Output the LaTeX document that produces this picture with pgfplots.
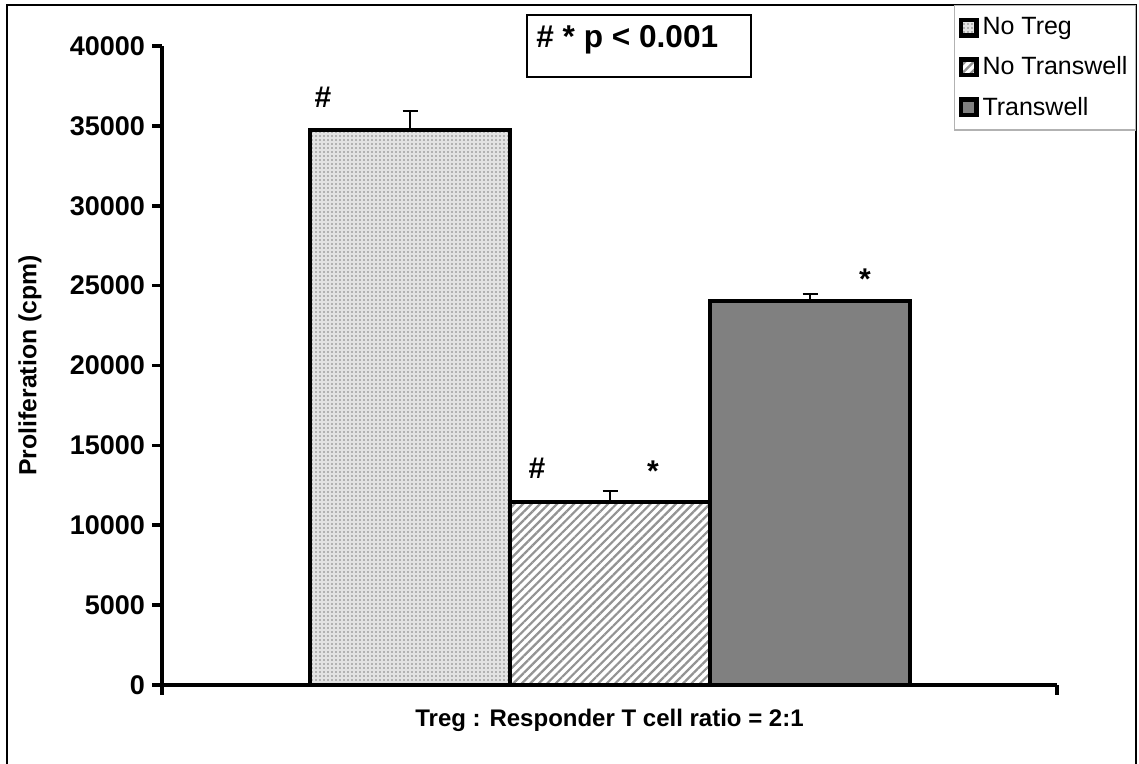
\documentclass[border=0pt]{standalone}
\usepackage{pgfplots}
\pgfplotsset{compat=1.18}
\usepackage{fontspec}
\setmainfont{Liberation Sans}
\usetikzlibrary{patterns,patterns.meta}

\begin{document}
\begin{tikzpicture}[x=0.5pt,y=0.5pt]
% page frame
\path[use as bounding box] (0,0) rectangle (1139,764);
\draw[line width=1pt] (7,-4) -- (7,759) -- (1136,759) -- (1136,-4);

\begin{axis}[
  at={(81pt,39.5pt)}, anchor=south west, scale only axis,
  width=447.5pt, height=319.5pt,
  xmin=-2.24, xmax=2.235, ymin=0, ymax=40000,
  axis lines=left,
  axis line style={line width=1.8pt, -},
  ytick={0,5000,...,40000},
  xtick={-2.24,2.235}, xticklabels={},
  tick align=outside, major tick length=5pt,
  tick style={line width=1.8pt, black},
  yticklabel style={font=\bfseries\fontsize{13.5}{15}\selectfont},
  /pgf/number format/assume math mode=true,
  /pgf/number format/1000 sep={},
  scaled y ticks=false,
  ybar, bar width=1,
  xlabel={Treg : Responder T cell ratio = 2:1},
  xlabel style={at={(rel axis cs:0.5,-0.0548)}, anchor=center,
    font=\bfseries\fontsize{12}{14}\selectfont},
  ylabel={Proliferation (cpm)},
  ylabel style={at={(rel axis cs:-0.1475,0.5)}, anchor=center,
    font=\bfseries\fontsize{12.4}{14}\selectfont},
  legend style={at={(rel axis cs:1.0883,1.0642)}, anchor=north east,
    draw=gray!60, line width=0.6pt, font=\fontsize{12.5}{14}\selectfont,
    row sep=5.5pt, inner xsep=2pt, inner ysep=4pt,
    cells={anchor=west}},
  legend image code/.code={\draw[#1, line width=2.4pt] (1pt,-3.8pt) rectangle (8.6pt,3.8pt);},
  error bars/y dir=plus, error bars/y explicit,
  error bars/error bar style={line width=0.7pt, black},
  error bars/error mark options={line width=0.7pt, black, mark size=3.75pt, rotate=90},
]
\addplot[bar shift=0pt, draw=black, line width=2pt, fill=gray!22,
  postaction={pattern={Dots[distance=2pt,radius=0.45pt]}, pattern color=gray}]
  coordinates {(-1,34740) +- (0,1190)};
\addplot[bar shift=0pt, draw=black, line width=2pt, fill=white,
  postaction={pattern={Lines[angle=45,distance=3pt,line width=1.1pt]}, pattern color=gray!85}]
  coordinates {(0,11460) +- (0,690)};
\addplot[bar shift=0pt, draw=black, line width=2pt, fill=gray]
  coordinates {(1,24040) +- (0,440)};
\legend{No Treg, No Transwell, Transwell}

\node[font=\bfseries\fontsize{15}{17}\selectfont] at (axis cs:-1.435,36800) {\#};
\node[font=\bfseries\fontsize{15}{17}\selectfont] at (axis cs:-0.365,13550) {\#};
\node[font=\bfseries\fontsize{15}{17}\selectfont] at (axis cs:0.215,13400) {*};
\node[font=\bfseries\fontsize{15}{17}\selectfont] at (axis cs:1.275,25400) {*};
\end{axis}

% significance box
\draw[line width=1.3pt] (527,749) rectangle (751,687);
\node[anchor=base west, inner sep=0pt, font=\bfseries\fontsize{15.8}{18}\selectfont]
  at (536,716) {\# * p < 0.001};
\end{tikzpicture}
\end{document}
